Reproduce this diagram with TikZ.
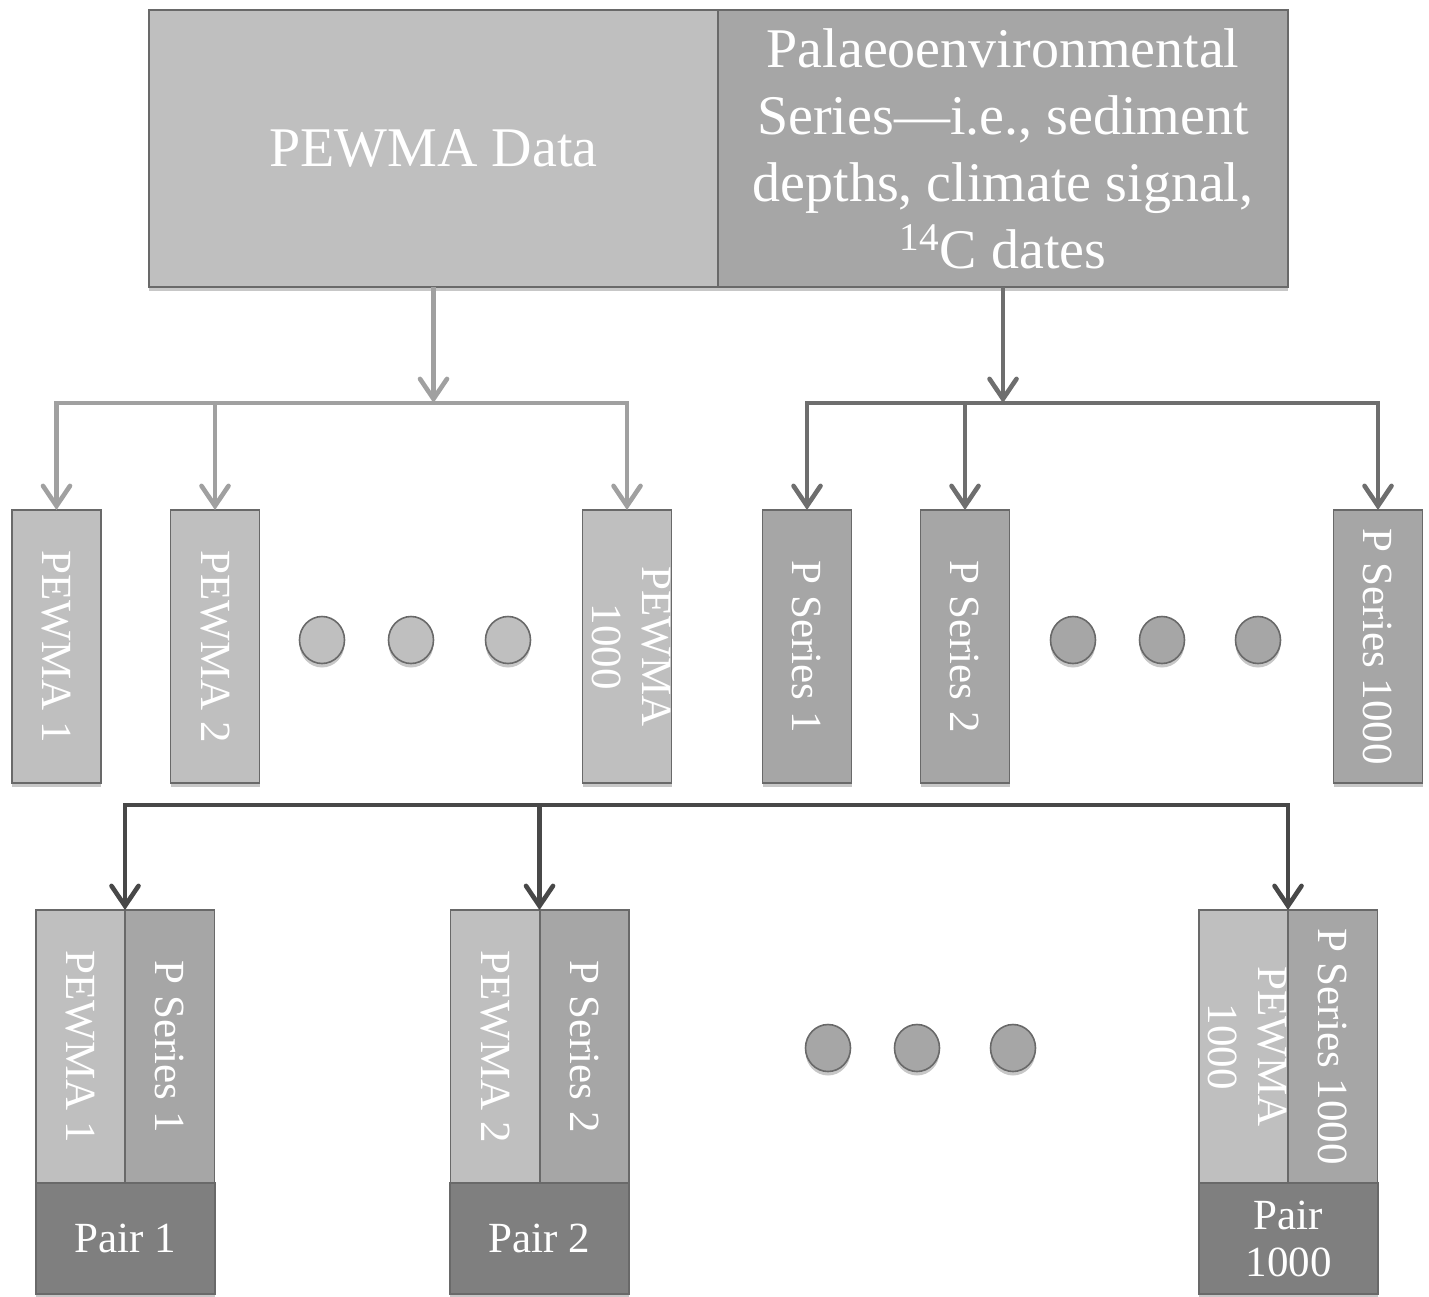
\documentclass[tikz,border=0pt]{standalone}
\usepackage{fontspec}
\setmainfont{Liberation Serif}
\usepackage{graphicx}
\usetikzlibrary{arrows.meta,shapes.geometric,shadows}
\definecolor{lfill}{RGB}{191,191,191}
\definecolor{mfill}{RGB}{166,166,166}
\definecolor{dfill}{RGB}{127,127,127}
\definecolor{bord}{RGB}{105,105,105}
\definecolor{larr}{RGB}{160,160,160}
\definecolor{marr}{RGB}{110,110,110}
\definecolor{darr}{RGB}{72,72,72}
\tikzset{
  shade/.style={drop shadow={shadow xshift=0pt, shadow yshift=-2pt, opacity=0.22, fill=black}},
  box/.style={draw=bord, line width=0.8pt, inner sep=0pt, outer sep=0pt, text=white, align=center,
    font=\fontsize{21.5}{25}\selectfont, shade},
  big/.style={box, font=\fontsize{28}{33.5}\selectfont, minimum height=138.5pt},
  col/.style={box, minimum width=44.5pt, minimum height=136.5pt},
  pairb/.style={box, fill=dfill, minimum width=89.5pt, minimum height=55.5pt, font=\fontsize{21.5}{23.5}\selectfont},
  dot/.style={ellipse, draw=bord, line width=0.8pt, minimum width=22.5pt, minimum height=23.5pt, inner sep=0pt, shade},
  tip/.tip={Straight Barb[length=10pt,width=13.5pt,line cap=round]},
  conn/.style={line width=2.3pt, -tip},
  conn2/.style={line width=2.3pt, tip-tip, line join=miter}
}
\newcommand{\vtext}[1]{\rotatebox{-90}{#1}}
\newcommand{\vtwo}[2]{\makebox[0pt][c]{\rotatebox{-90}{\begin{tabular}{@{}c@{}}#1\\#2\end{tabular}}}}
\begin{document}
\begin{tikzpicture}[x=0.5pt,y=-0.5pt]
\useasboundingbox (0,0) rectangle (1429,1296);
% top boxes
\node[big, fill=lfill, minimum width=284.5pt] (tl) at (433.5,148.5) {PEWMA Data};
\node[big, fill=mfill, minimum width=285pt] (tr) at (1003,148.5)
  {Palaeoenvironmental\\Series---i.e., sediment\\depths, climate signal,\\\textsuperscript{14}C dates};
% row 2 left
\node[col, fill=lfill] (p1) at (56.5,646.5) {\vtext{PEWMA 1}};
\node[col, fill=lfill] (p2) at (215,646.5) {\vtext{PEWMA 2}};
\node[col, fill=lfill] (p1000) at (627,646.5) {\vtwo{PEWMA}{1000}};
\node[dot, fill=lfill] (dl1) at (322,640) {};
\node[dot, fill=lfill] (dl2) at (411,640) {};
\node[dot, fill=lfill] (dl3) at (508,640) {};
% row 2 right
\node[col, fill=mfill] (s1) at (807,646.5) {\vtext{P Series 1}};
\node[col, fill=mfill] (s2) at (965,646.5) {\vtext{P Series 2}};
\node[col, fill=mfill] (s1000) at (1378,646.5) {\vtext{P Series 1000}};
\node[dot, fill=mfill] (dr1) at (1073,640) {};
\node[dot, fill=mfill] (dr2) at (1162,640) {};
\node[dot, fill=mfill] (dr3) at (1258,640) {};
% pairs
\node[col, fill=lfill] (aL) at (80.5,1046.5) {\vtext{PEWMA 1}};
\node[col, fill=mfill] (aR) at (170,1046.5) {\vtext{P Series 1}};
\node[pairb] (aP) at (125.5,1238.5) {Pair 1};
\node[col, fill=lfill] (bL) at (495,1046.5) {\vtext{PEWMA 2}};
\node[col, fill=mfill] (bR) at (584.5,1046.5) {\vtext{P Series 2}};
\node[pairb] (bP) at (539.5,1238.5) {Pair 2};
\node[col, fill=lfill] (cL) at (1243.5,1046.5) {\vtwo{PEWMA}{1000}};
\node[col, fill=mfill] (cR) at (1333,1046.5) {\vtext{P Series 1000}};
\node[pairb] (cP) at (1288.5,1238.5) {Pair\\1000};
\node[dot, fill=mfill] (db1) at (828,1048) {};
\node[dot, fill=mfill] (db2) at (917,1048) {};
\node[dot, fill=mfill] (db3) at (1013,1048) {};
% connectors left
\coordinate (jl) at (433.5,403);
\draw[conn, larr] (tl.south) -- (jl);
\draw[conn2, larr] (p1.north) -- (p1.north |- jl) -- (p1000.north |- jl) -- (p1000.north);
\draw[conn, larr] (p2.north |- jl) -- (p2.north);
% connectors right
\coordinate (jr) at (1003,403);
\draw[conn, marr] (tr.south) -- (jr);
\draw[conn2, marr] (s1.north) -- (s1.north |- jr) -- (s1000.north |- jr) -- (s1000.north);
\draw[conn, marr] (s2.north |- jr) -- (s2.north);
% bottom bus
\coordinate (jb) at (125,805);
\draw[conn2, darr] (aL.north east) -- (aL.north east |- jb) -- (cL.north east |- jb) -- (cL.north east);
\draw[conn, darr] (bL.north east |- jb) -- (bL.north east);
\end{tikzpicture}
\end{document}
